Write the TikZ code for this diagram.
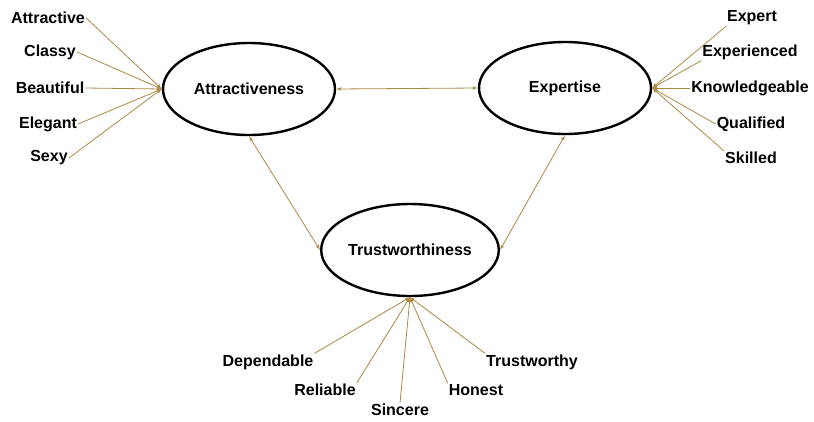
\documentclass[tikz,border=0pt]{standalone}
\usepackage{fontspec}
\setmainfont{Liberation Sans}
\usepackage{tikz}
\usetikzlibrary{arrows,shapes.geometric}
\definecolor{linkbrown}{RGB}{172,136,68}

\begin{document}
\begin{tikzpicture}[x=1pt, y=-1pt,
            every node/.style={font=\bfseries\fontsize{16}{18}\selectfont, inner sep=1pt},
            factor/.style={draw, ellipse, line width=2.4pt, minimum width=172pt, minimum height=92pt},
            link/.style={draw, linkbrown, line width=0.8pt}]
        \useasboundingbox (0,0) rectangle (814,421);

        % factors
        \node[factor](attr) at (249,89){Attractiveness};
        \node[factor](expert) at (565,88){Expertise};
        \node[factor](trust) at (410,250){Trustworthiness};

        % indicators, left
        \node(attractive) at (48,18){Attractive};
        \node(classy) at (50,52){Classy};
        \node(beautiful) at (50,88){Beautiful};
        \node(elegant) at (48,124){Elegant};
        \node(sexy) at (49,158){Sexy};

        % indicators, right
        \node(expertw) at (752,18){Expert};
        \node(experienced) at (750,52){Experienced};
        \node(knowledge) at (750,88){Knowledgeable};
        \node(qualified) at (751,124){Qualified};
        \node(skilled) at (751,158){Skilled};

        % indicators, bottom
        \node(dependable) at (268,362){Dependable};
        \node(reliable) at (325,390){Reliable};
        \node(sincere) at (400,410){Sincere};
        \node(honest) at (476,390){Honest};
        \node(trustworthy) at (532,362){Trustworthy};

        \draw[link, -latex'] (attractive.east) -- (attr.west);
        \draw[link, -latex'] (classy.east) -- (attr.west);
        \draw[link, -latex'] (beautiful.east) -- (attr.west);
        \draw[link, -latex'] (elegant.east) -- (attr.west);
        \draw[link, -latex'] (sexy.east) -- (attr.west);

        \draw[link, -latex'] (expertw.south west) -- (expert.east);
        \draw[link, -latex'] (experienced.south west) -- (expert.east);
        \draw[link, -latex'] (knowledge.west) -- (expert.east);
        \draw[link, -latex'] (qualified.west) -- (expert.east);
        \draw[link, -latex'] (skilled.north west) -- (expert.east);

        \draw[link, -latex'] (dependable.north east) -- (trust.south);
        \draw[link, -latex'] (reliable.north east) -- (trust.south);
        \draw[link, -latex'] (sincere.north) -- (trust.south);
        \draw[link, -latex'] (honest.north west) -- (trust.south);
        \draw[link, -latex'] (trustworthy.north west) -- (trust.south);

        % correlations
        \draw[link, latex'-latex'] (attr.east) -- (expert.west);
        \draw[link, latex'-latex'] (attr.south) -- (trust.west);
        \draw[link, latex'-latex'] (expert.south) -- (trust.east);
        \end{tikzpicture}
\end{document}
